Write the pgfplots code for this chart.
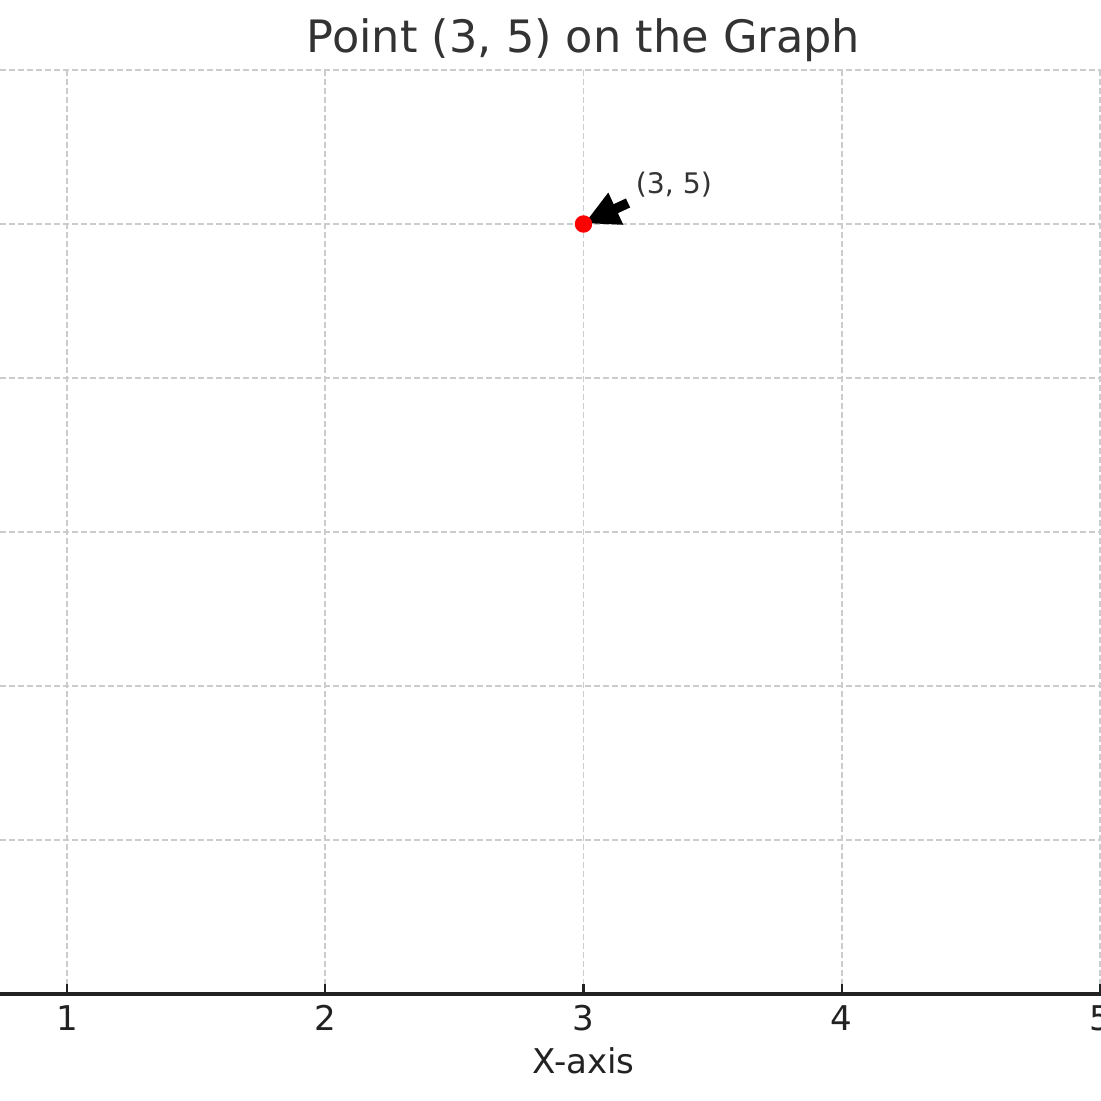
\documentclass[border=0pt]{standalone}
\usepackage{pgfplots}
\pgfplotsset{compat=1.18}
\usepackage{fontspec}
\setmainfont{DejaVu Sans}
\definecolor{titlec}{HTML}{333333}
\definecolor{axc}{HTML}{222222}
\definecolor{gridc}{HTML}{CCCCCC}
\begin{document}
\begin{tikzpicture}
\begin{axis}[
  scale only axis,
  width=11.01cm, height=9.24cm,
  xmin=0.7406, xmax=5.0039,
  ymin=0, ymax=6,
  axis lines*=left,
  y axis line style={draw=none},
  x axis line style={draw=axc, line width=1pt},
  xtick={1,2,3,4,5},
  ytick={0,1,2,3,4,5,6},
  yticklabels={},
  ytick style={draw=none},
  xtick style={draw=axc, line width=0.6pt},
  tick align=inside,
  major tick length=0.1cm,
  /pgf/number format/assume math mode=true,
  xticklabel style={font=\fontsize{9.7}{11}\selectfont, text=axc, anchor=base, yshift=-0.36cm, inner sep=0pt},
  grid=major,
  major grid style={draw=gridc, line width=0.43pt, dash pattern=on 0.063cm off 0.027cm},
  clip=false,
]
\coordinate (bl) at (rel axis cs:0,0);
\coordinate (tr) at (rel axis cs:1,1);
\addplot[only marks, mark=*, mark size=2.28pt, mark options={fill=red, draw=red}] coordinates {(3,5)};
\fill[black] (axis cs:3.006,5.006) -- (axis cs:3.0960,5.2039) -- (axis cs:3.1169,5.1286) -- (axis cs:3.1642,5.1656) -- (axis cs:3.1805,5.1071) -- (axis cs:3.1332,5.0701) -- (axis cs:3.1541,4.9948) -- cycle;
\node[anchor=base west, inner sep=0pt, text=titlec, font=\fontsize{8.05}{9.5}\selectfont] at (axis cs:3.2,5.2) {(3, 5)};
\node[anchor=base, inner sep=0pt, text=titlec, font=\fontsize{12.7}{15}\selectfont] at ([yshift=0.17cm]axis cs:3,6) {Point (3, 5) on the Graph};
\node[anchor=base, inner sep=0pt, text=axc, font=\fontsize{9.7}{11}\selectfont] at ([yshift=-0.79cm]axis cs:3,0) {X-axis};
\end{axis}
\pgfresetboundingbox
\path[use as bounding box] ([yshift=-1.07cm]bl) rectangle ([yshift=0.70cm]tr);
\end{tikzpicture}
\end{document}
